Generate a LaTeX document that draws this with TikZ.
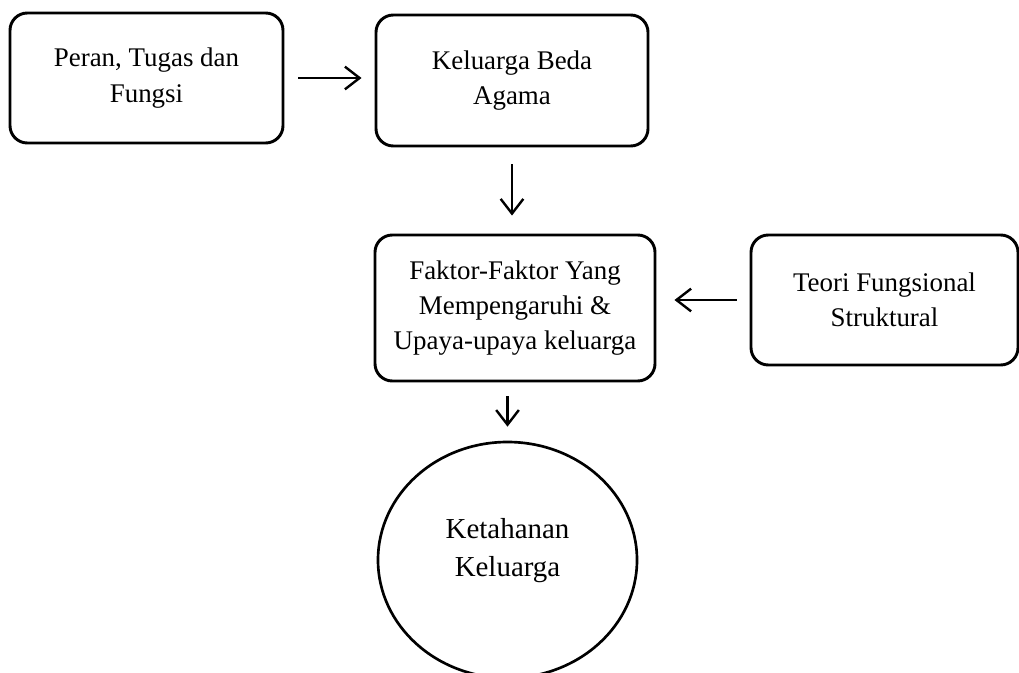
\documentclass[tikz,border=0pt]{standalone}
\usepackage{fontspec}
\setmainfont{Liberation Serif}
\usetikzlibrary{shapes.geometric,arrows.meta}

\begin{document}
\begin{tikzpicture}[x=0.75pt,y=-0.75pt]%
\tikzstyle{flowbox} = [draw, line width=2.2pt, rectangle, rounded corners=13pt,
    align=center, font=\fontsize{20.2pt}{26.5pt}\selectfont]
\tikzstyle{goalcircle} = [draw, line width=2pt, ellipse, inner sep=0pt, text depth=19pt,
    align=center, font=\fontsize{21.7pt}{28.5pt}\selectfont]
\tikzstyle{flowarrow} = [line width=1.8pt, -{Straight Barb[length=11pt,width=17pt]}]

\useasboundingbox (0,0) rectangle (1019,673);

\node [flowbox, minimum width=204.75pt, minimum height=97.5pt] (peran) at (146.5,78)
    {Peran, Tugas dan\\Fungsi};
\node [flowbox, minimum width=204pt, minimum height=98.25pt] (beda) at (512,80.5)
    {Keluarga Beda\\Agama};
\node [flowbox, minimum width=210pt, minimum height=109.5pt] (faktor) at (515,308)
    {Faktor-Faktor Yang\\Mempengaruhi \&\\Upaya-upaya keluarga};
\node [flowbox, minimum width=200.25pt, minimum height=97.5pt] (teori) at (884.5,300)
    {Teori Fungsional\\Struktural};
\node [goalcircle, minimum width=194.25pt, minimum height=177pt] (ketahanan) at (507.5,560)
    {Ketahanan\\Keluarga};

\draw [flowarrow, shorten <=10.5pt, shorten >=9.75pt] (peran.east) -- (peran.east -| beda.west);
\draw [flowarrow, shorten <=12.75pt, shorten >=13.5pt] (beda.south) -- (beda.south |- faktor.north);
\draw [flowarrow, shorten <=9.75pt, shorten >=13.5pt] (teori.west) -- (teori.west -| faktor.east);
\draw [flowarrow, shorten <=10.5pt, shorten >=10.5pt] (ketahanan.north |- faktor.south) -- (ketahanan.north);
\end{tikzpicture}
\end{document}
